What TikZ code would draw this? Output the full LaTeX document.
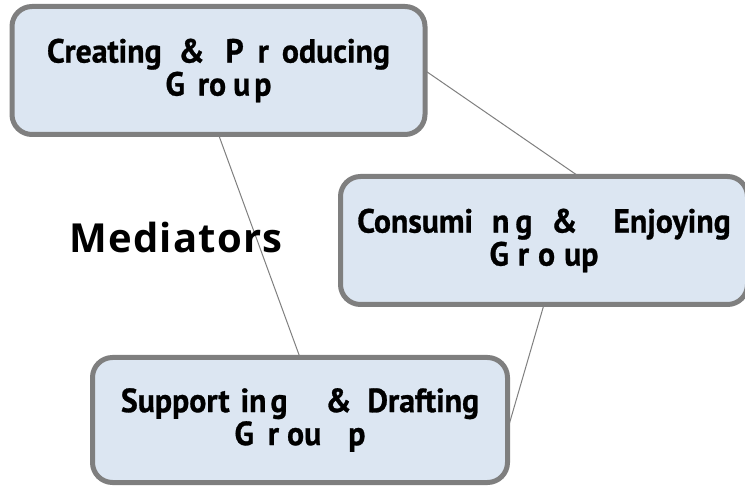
\documentclass[tikz,border=0pt]{standalone}
\usepackage{fontspec}
\setmainfont{Open Sans}
\newfontfamily\boxfont{PT Sans Bold}[FakeStretch=0.95, FakeBold=0.8]
\newfontfamily\labelfont{Open Sans}[LetterSpace=3]
\usetikzlibrary{backgrounds}
\definecolor{boxfill}{HTML}{DCE6F2}
\definecolor{boxline}{HTML}{7F7F7F}
% explicit gap between word fragments, in pt
\newcommand{\gp}[1]{\hspace*{#1pt}}
\begin{document}
\begin{tikzpicture}[x=1pt,y=-1pt,
  groupbox/.style={draw=boxline, line width=5pt, fill=boxfill,
    rounded corners=20pt, inner sep=0pt, outer sep=0pt, align=center,
    font=\boxfont\fontsize{33.5}{33}\selectfont},
  link/.style={draw=boxline, line width=1pt},
  label/.style={font=\labelfont\bfseries\fontsize{40}{44}\selectfont, anchor=base}]
\useasboundingbox (0,0) rectangle (745,486);

\node[groupbox, minimum width=413pt, minimum height=128pt] (create) at (218.5,70.5)
  {Creating\gp{17}\&\gp{21}P\gp{14}r\gp{13}oducing\\
   G\gp{13}ro\gp{7}u\gp{4}p};
\node[groupbox, minimum width=407pt, minimum height=128pt] (consume) at (544,240.5)
  {Consumi\gp{19}n\gp{6}g\gp{19}\&\gp{36}Enjoying\\
   G\gp{9}r\gp{9}o\gp{9}up};
\node[groupbox, minimum width=415pt, minimum height=125pt] (support) at (300,420)
  {Support\gp{11}in\gp{4}g\gp{38}\&\gp{16}Drafting\\
   G\gp{14}r\gp{8}ou\gp{27}p};

\node[label] (med) at (176,253) {Mediators};

\begin{scope}[on background layer]
  \draw[link] (create.east) -- ([xshift=35pt]consume.north);
  \draw[link] (create.south) -- (support.north);
  \draw[link] (consume.south) -- ([yshift=-10pt]support.east);
\end{scope}
\end{tikzpicture}
\end{document}
